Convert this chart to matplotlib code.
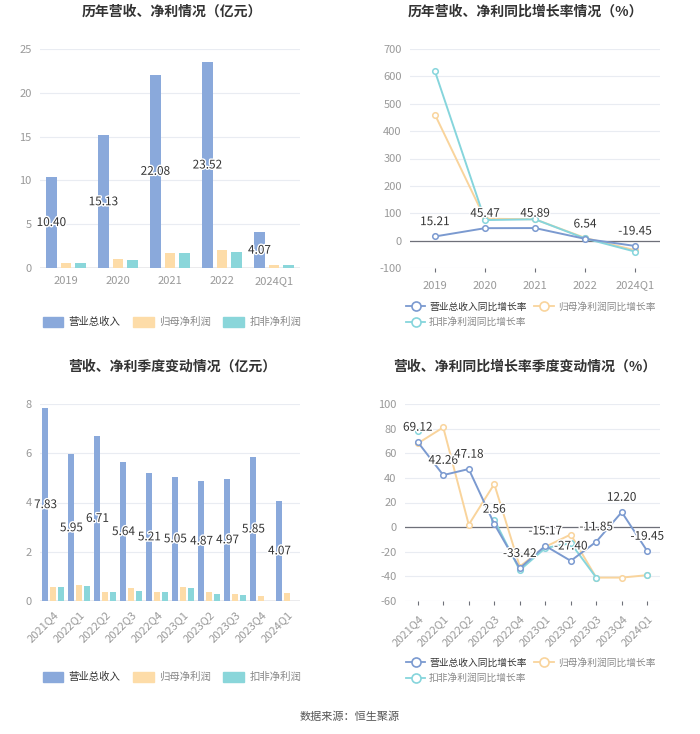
import matplotlib
matplotlib.use('Agg')
import matplotlib.pyplot as plt
import matplotlib.patheffects as pe
import numpy as np

plt.rcParams['font.family'] = ['Noto Sans CJK SC', 'DejaVu Sans']
plt.rcParams['axes.unicode_minus'] = False

years = ['2019', '2020', '2021', '2022', '2024Q1']
rev_y = [10.40, 15.13, 22.08, 23.52, 4.07]
np_y = [0.60, 1.05, 1.75, 2.05, 0.33]
dnp_y = [0.55, 0.95, 1.68, 1.85, 0.30]

rev_g_y = [15.21, 45.47, 45.89, 6.54, -19.45]
np_g_y = [460, 80, 78, 10, -35]
dnp_g_y = [618, 75, 78, 8, -40]

quarters = ['2021Q4', '2022Q1', '2022Q2', '2022Q3', '2022Q4',
            '2023Q1', '2023Q2', '2023Q3', '2023Q4', '2024Q1']
rev_q = [7.83, 5.95, 6.71, 5.64, 5.21, 5.05, 4.87, 4.97, 5.85, 4.07]
np_q = [0.55, 0.66, 0.38, 0.52, 0.38, 0.55, 0.35, 0.30, 0.22, 0.33]
dnp_q = [0.55, 0.62, 0.35, 0.40, 0.36, 0.52, 0.30, 0.23, np.nan, np.nan]

rev_g_q = [69.12, 42.26, 47.18, 2.56, -33.42, -15.17, -27.40, -11.85, 12.20, -19.45]
np_g_q = [68, 81, 2, 35, -32, -16, -6, -41, -41, -39]
dnp_g_q = [78, np.nan, np.nan, 6, -35, -17, -13, -41, np.nan, -39]

BLUE = '#8aa9db'
ORANGE = '#fddca8'
TEAL = '#8ad6da'
LBLUE = '#7b9ad0'
LORANGE = '#f9d49c'
LTEAL = '#86d5dc'
GRID = '#e9ecf2'
TICK = '#999999'
labels = ['营业总收入', '归母净利润', '扣非净利润']
glabels = ['营业总收入同比增长率', '归母净利润同比增长率', '扣非净利润同比增长率']

fig = plt.figure(figsize=(7, 7.34), dpi=100)
W, H = 700, 734


def add_ax(l, t, r, b):
    return fig.add_axes([l / W, 1 - b / H, (r - l) / W, (b - t) / H])


def style(ax, cats, rot=0):
    for s in ['top', 'right', 'left', 'bottom']:
        ax.spines[s].set_visible(False)
    ax.grid(axis='y', color=GRID, lw=0.8)
    ax.set_axisbelow(True)
    ax.axhline(0, color='#6e7079', lw=0.9, zorder=2)
    ax.set_xticks(range(len(cats)))
    if rot:
        ax.set_xticklabels(cats, rotation=rot, ha='right', rotation_mode='anchor')
    else:
        ax.set_xticklabels(cats)
    ax.tick_params(axis='y', length=0, labelsize=8, labelcolor=TICK, pad=6)
    ax.tick_params(axis='x', length=0, labelsize=8, labelcolor=TICK, pad=6)
    ax.set_xlim(-0.5, len(cats) - 0.5)


outline = [pe.withStroke(linewidth=2, foreground='white')]


def bars(ax, cats, rev, npf, dnp, w, off, rot=0):
    x = np.arange(len(cats))
    ax.bar(x - off, rev, w, color=BLUE, zorder=3)
    ax.bar(x, npf, w, color=ORANGE, zorder=3)
    ax.bar(x + off, dnp, w, color=TEAL, zorder=3)
    for xi, v in zip(x, rev):
        ax.text(xi - off, v / 2, f'{v:.2f}', ha='center', va='center', fontsize=8.5,
                color='#333333', path_effects=outline, zorder=4)
    style(ax, cats, rot)


def lines(ax, cats, rev, npf, dnp, rot=0):
    x = np.arange(len(cats))
    ax.plot(x, npf, color=LORANGE, lw=1.4, marker='o', ms=4, mfc='white', mew=1.1, zorder=3)
    ax.plot(x, dnp, color=LTEAL, lw=1.4, marker='o', ms=4, mfc='white', mew=1.1, zorder=3)
    ax.plot(x, rev, color=LBLUE, lw=1.4, marker='o', ms=4, mfc='white', mew=1.1, zorder=4)
    for xi, v in zip(x, rev):
        ax.annotate(f'{v:.2f}', (xi, v), xytext=(0, 6), textcoords='offset points',
                    ha='center', va='bottom', fontsize=8.5, color='#333333',
                    path_effects=outline, zorder=5)
    style(ax, cats, rot)
    ax.tick_params(axis='x', length=3, color='#6e7079', direction='out')


# panel 1
ax1 = add_ax(40, 49, 300, 268)
bars(ax1, years, rev_y, np_y, dnp_y, 0.21, 0.28)
ax1.set_ylim(0, 25)
ax1.set_yticks([0, 5, 10, 15, 20, 25])
fig.text(172 / W, 1 - 12 / H, '历年营收、净利情况（亿元）', ha='center', va='center',
         fontsize=10, fontweight='bold', color='#333333')

# panel 2
ax2 = add_ax(410, 49, 660, 268)
lines(ax2, years, rev_g_y, np_g_y, dnp_g_y)
ax2.set_ylim(-100, 700)
ax2.set_yticks(range(-100, 701, 100))
fig.text(525 / W, 1 - 12 / H, '历年营收、净利同比增长率情况（%）', ha='center', va='center',
         fontsize=10, fontweight='bold', color='#333333')

# panel 3
ax3 = add_ax(40, 404, 300, 601)
bars(ax3, quarters, rev_q, np_q, dnp_q, 0.23, 0.29, rot=45)
ax3.set_ylim(0, 8)
ax3.set_yticks([0, 2, 4, 6, 8])
fig.text(172 / W, 1 - 367 / H, '营收、净利季度变动情况（亿元）', ha='center', va='center',
         fontsize=10, fontweight='bold', color='#333333')

# panel 4
ax4 = add_ax(405, 404, 660, 601)
lines(ax4, quarters, rev_g_q, np_g_q, dnp_g_q, rot=45)
ax4.set_ylim(-60, 100)
ax4.set_yticks(range(-60, 101, 20))
fig.text(525 / W, 1 - 367 / H, '营收、净利同比增长率季度变动情况（%）', ha='center', va='center',
         fontsize=10, fontweight='bold', color='#333333')


def bar_legend(y):
    hs = [plt.Rectangle((0, 0), 1, 1, color=c) for c in (BLUE, ORANGE, TEAL)]
    lg = fig.legend(hs, labels, loc='center', bbox_to_anchor=(172 / W, 1 - y / H), ncol=3,
                    frameon=False, fontsize=7.5, handlelength=2.0, handleheight=1.1,
                    columnspacing=1.2, handletextpad=0.5)
    for t, c in zip(lg.get_texts(), ['#333333', '#888888', '#888888']):
        t.set_color(c)


def line_legend(y):
    cols = [LBLUE, LORANGE, LTEAL]
    hs = [plt.Line2D([], [], color=c, lw=1.3, marker='o', ms=6.5, mfc='white', mew=1.2)
          for c in cols]
    order = [0, 2, 1]
    lg = fig.legend([hs[i] for i in order], [glabels[i] for i in order], loc='upper left',
                    bbox_to_anchor=(398 / W, 1 - y / H), ncol=2, frameon=False, fontsize=7,
                    handlelength=2.0, columnspacing=0.8, handletextpad=0.4, labelspacing=0.55,
                    borderpad=0.3)
    for t, i in zip(lg.get_texts(), order):
        t.set_color('#333333' if i == 0 else '#888888')


bar_legend(322)
bar_legend(677)
line_legend(294)
line_legend(650)

fig.text(0.5, 1 - 717 / H, '数据来源：恒生聚源', ha='center', va='center',
         fontsize=8, color='#555555')

fig.savefig('out.png', dpi=100, facecolor='white')
